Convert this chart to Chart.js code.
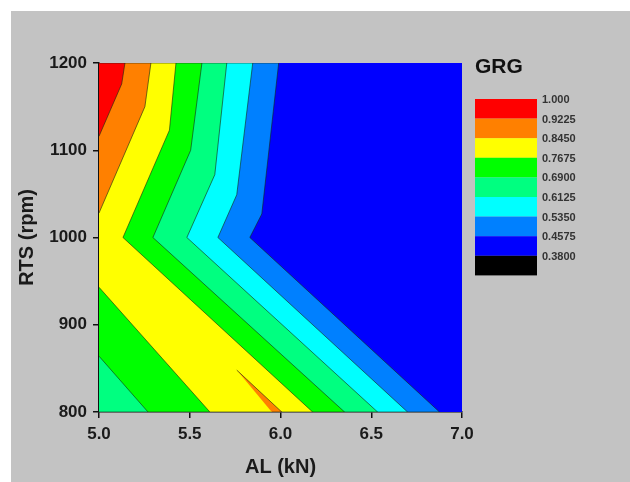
<!DOCTYPE html>
<html>
<head>
    <title>GRG Contour</title>
    <script src="https://cdn.jsdelivr.net/npm/chart.js"></script>
    <style>
        body {
            margin: 0;
            background-color: #ffffff;
        }

        #contourChart {
            display: block;
        }
    </style>
</head>
<body>
    <canvas id="contourChart" width="630" height="482"></canvas>

    <script>
        // Axis ticks
        const xTicks = [5.0, 5.5, 6.0, 6.5, 7.0];
        const yTicks = [800, 900, 1000, 1100, 1200];

        // Colour scale, top to bottom of the bar
        const levelLabels = ['1.000', '0.9225', '0.8450', '0.7675', '0.6900', '0.6125', '0.5350', '0.4575', '0.3800'];
        const levelColors = ['#ff0000', '#ff8000', '#ffff00', '#00ff00', '#00ff80', '#00ffff', '#0080ff', '#0000ff', '#000000'];

        // Contour regions as [AL, RTS] outlines, each one = area where GRG is above the band's lower level
        const blueRegion   = [[5, 800], [7, 800], [7, 1200], [5, 1200]];
        const dodgerRegion = [[5, 1200], [5.990, 1200], [5.897, 1027], [5.831, 1000], [6.876, 800], [5, 800]];
        const cyanRegion   = [[5, 1200], [5.847, 1200], [5.759, 1049], [5.655, 1000], [6.700, 800], [5, 800]];
        const springRegion = [[5, 1200], [5.704, 1200], [5.638, 1072], [5.484, 1000], [6.535, 800], [5, 800]];
        const greenRegion  = [[5, 1200], [5.567, 1200], [5.505, 1100], [5.297, 1000], [6.353, 800], [5.270, 800], [5, 864]];
        const yellowRegion = [[5, 1200], [5.424, 1200], [5.388, 1123], [5.132, 1000], [6.177, 800], [5.611, 800], [5, 943]];
        const orangeRegion = [[5, 1200], [5.286, 1200], [5.253, 1150], [5, 1028]];
        const orangeSliver = [[5.759, 848], [6.007, 800], [5.952, 800]];
        const redRegion    = [[5, 1200], [5.143, 1200], [5.125, 1176], [5, 1116]];

        // first one is drawn on top
        const regions = [
            { pts: redRegion, color: levelColors[0] },
            { pts: orangeRegion, color: levelColors[1] },
            { pts: orangeSliver, color: levelColors[1] },
            { pts: yellowRegion, color: levelColors[2] },
            { pts: greenRegion, color: levelColors[3] },
            { pts: springRegion, color: levelColors[4] },
            { pts: cyanRegion, color: levelColors[5] },
            { pts: dodgerRegion, color: levelColors[6] },
            { pts: blueRegion, color: levelColors[7], noLine: true }
        ];

        Chart.defaults.font.family = 'Arial, "Liberation Sans", sans-serif';
        Chart.defaults.color = '#1a1a1a';

        // gray panel with the thin white margin
        const backdrop = {
            id: 'backdrop',
            beforeDraw(chart) {
                const ctx = chart.ctx;
                ctx.save();
                ctx.fillStyle = '#ffffff';
                ctx.fillRect(0, 0, chart.width, chart.height);
                ctx.fillStyle = '#c3c3c3';
                ctx.fillRect(11, 11, chart.width - 11, chart.height - 11);
                ctx.restore();
            }
        };

        // colour bar on the right
        const colourBar = {
            id: 'colourBar',
            afterDraw(chart) {
                const ctx = chart.ctx;
                const left = chart.chartArea.right + 13;
                const top = 99, w = 62, h = 19.6;
                ctx.save();
                ctx.fillStyle = '#111111';
                ctx.font = 'bold 21px Arial, "Liberation Sans", sans-serif';
                ctx.textBaseline = 'middle';
                ctx.fillText('GRG', left, 67);
                levelColors.forEach((c, i) => {
                    ctx.fillStyle = c;
                    ctx.fillRect(left, top + i * h, w, h);
                });
                ctx.font = 'bold 11px Arial, "Liberation Sans", sans-serif';
                ctx.fillStyle = '#333333';
                levelLabels.forEach((t, i) => {
                    ctx.fillText(t, left + w + 5, top + i * h + 1);
                });
                ctx.restore();
            }
        };

        const ctx = document.getElementById('contourChart').getContext('2d');
        new Chart(ctx, {
            type: 'scatter',
            data: {
                datasets: regions.map(r => ({
                    data: r.pts.map(p => ({ x: p[0], y: p[1] })),
                    showLine: true,
                    fill: 'shape',
                    backgroundColor: r.color,
                    borderColor: 'rgba(20, 40, 20, 0.75)',
                    borderWidth: r.noLine ? 0 : 0.8,
                    pointRadius: 0,
                    tension: 0
                }))
            },
            options: {
                responsive: false,
                animation: false,
                layout: {
                    padding: { left: 0, top: 63, right: 168, bottom: 0 }
                },
                plugins: {
                    legend: { display: false },
                    tooltip: { enabled: false }
                },
                scales: {
                    x: {
                        type: 'linear',
                        min: 5,
                        max: 7,
                        afterBuildTicks: axis => { axis.ticks = xTicks.map(v => ({ value: v })); },
                        afterFit: axis => { axis.height = 70; },
                        ticks: {
                            callback: v => v.toFixed(1),
                            font: { size: 17, weight: 'bold' },
                            padding: 6
                        },
                        grid: { drawOnChartArea: false, drawTicks: true, tickLength: 6, color: '#111', lineWidth: 1.5 },
                        border: { color: '#111', width: 1.5 },
                        title: {
                            display: true,
                            text: 'AL (kN)',
                            font: { size: 20, weight: 'bold' },
                            padding: { top: 0, bottom: 3 }
                        }
                    },
                    y: {
                        type: 'linear',
                        min: 800,
                        max: 1200,
                        afterBuildTicks: axis => { axis.ticks = yTicks.map(v => ({ value: v })); },
                        afterFit: axis => { axis.width = 99; },
                        ticks: {
                            callback: v => String(v),
                            font: { size: 17, weight: 'bold' },
                            padding: 6
                        },
                        grid: { drawOnChartArea: false, drawTicks: true, tickLength: 6, color: '#111', lineWidth: 1.5 },
                        border: { color: '#111', width: 1.5 },
                        title: {
                            display: true,
                            text: 'RTS (rpm)',
                            font: { size: 20, weight: 'bold' },
                            padding: { top: 15, bottom: 0 }
                        }
                    }
                }
            },
            plugins: [backdrop, colourBar]
        });
    </script>
</body>
</html>
